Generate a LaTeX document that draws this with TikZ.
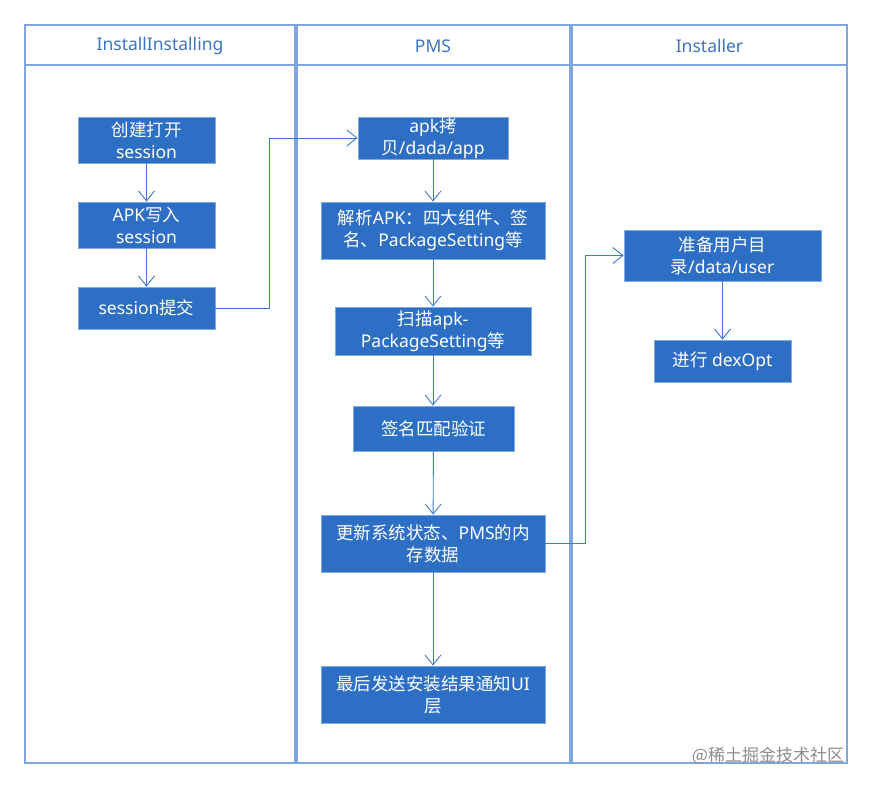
\documentclass[tikz,border=0pt]{standalone}
\usepackage{fontspec}
\setmainfont{Noto Sans}
\newfontfamily\cjk{Noto Sans CJK SC}
\newcommand\zh[1]{{\cjk #1}}
\usetikzlibrary{arrows.meta}
\definecolor{frameblue}{RGB}{125,165,222}
\definecolor{boxblue}{RGB}{46,111,198}
\definecolor{boxedge}{RGB}{130,168,225}
\definecolor{lineblue}{RGB}{62,122,210}
\definecolor{headtext}{RGB}{60,115,195}
\tikzset{
  lane/.style={draw=frameblue, line width=1.4pt},
  headlabel/.style={text=headtext, font=\fontsize{17.5}{22}\selectfont, inner sep=0pt},
  flowbox/.style={draw=boxedge, line width=0.8pt, fill=boxblue, text=white, align=center,
    font=\fontsize{17.5}{22}\selectfont, inner sep=0pt},
  arr/.style={draw=lineblue, line width=0.9pt, -{Straight Barb[length=10pt,width=16pt,line width=0.9pt]}},
}
\begin{document}
\begin{tikzpicture}[x=1pt,y=-1pt]
\useasboundingbox (0,0) rectangle (872,789);
% lanes
\draw[lane] (25,25) rectangle (295,763);
\draw[lane] (25,65) -- (295,65);
\draw[lane] (297,25) rectangle (570,763);
\draw[lane] (297,65) -- (570,65);
\draw[lane] (572,25) rectangle (847,763);
\draw[lane] (572,65) -- (847,65);
\node[headlabel] (h1) at (160,46) {InstallInstalling};
\node[headlabel] (h2) at (433,46) {PMS};
\node[headlabel] (h3) at (709.5,46) {Installer};
% lane 1
\node[flowbox, minimum width=137pt, minimum height=46pt] (b1) at (146.5,140) {\zh{创建打开}\\session};
\node[flowbox, minimum width=137pt, minimum height=46pt] (b2) at (146.5,225) {APK\zh{写入}\\session};
\node[flowbox, minimum width=137pt, minimum height=42pt] (b3) at (146.5,308) {session\zh{提交}};
% lane 2
\node[flowbox, minimum width=150pt, minimum height=42pt] (p1) at (433,138) {apk\zh{拷}\\\zh{贝}/dada/app};
\node[flowbox, minimum width=224pt, minimum height=57pt] (p2) at (433,230.5) {\zh{解析}APK\zh{：四大组件、签}\\\zh{名、}PackageSetting\zh{等}};
\node[flowbox, minimum width=196pt, minimum height=48pt] (p3) at (433,331) {\zh{扫描}apk-\\PackageSetting\zh{等}};
\node[flowbox, minimum width=161pt, minimum height=45pt] (p4) at (433.5,428.5) {\zh{签名匹配验证}};
\node[flowbox, minimum width=224pt, minimum height=57pt] (p5) at (433,543.5) {\zh{更新系统状态、}PMS\zh{的内}\\\zh{存数据}};
\node[flowbox, minimum width=224pt, minimum height=57pt] (p6) at (433,694.5) {\zh{最后发送安装结果通知}UI\\\zh{层}};
% lane 3
\node[flowbox, minimum width=197pt, minimum height=51pt] (i1) at (722.5,255.5) {\zh{准备用户目}\\\zh{录}/data/user};
\node[flowbox, minimum width=137pt, minimum height=42pt] (i2) at (722.5,361) {\zh{进行} dexOpt};
% connectors
\draw[arr] (b1) -- (b2);
\draw[arr] (b2) -- (b3);
\draw[arr] (b3.east) -- ++(54,0) |- (p1.west);
\draw[arr] (p1) -- (p2);
\draw[arr] (p2) -- (p3);
\draw[arr] (p3.south) -- (p3.south |- p4.north);
\draw[arr] (p4) -- (p5);
\draw[arr] (p5) -- (p6);
\draw[arr] (p5.east) -- ++(40,0) |- (i1.west);
\draw[arr] (i1) -- (i2);
% watermark
\node[text=black!45, font=\cjk\fontsize{17}{20}\selectfont, inner sep=0pt] (wm) at (768,756) {@稀土掘金技术社区};
\end{tikzpicture}
\end{document}
